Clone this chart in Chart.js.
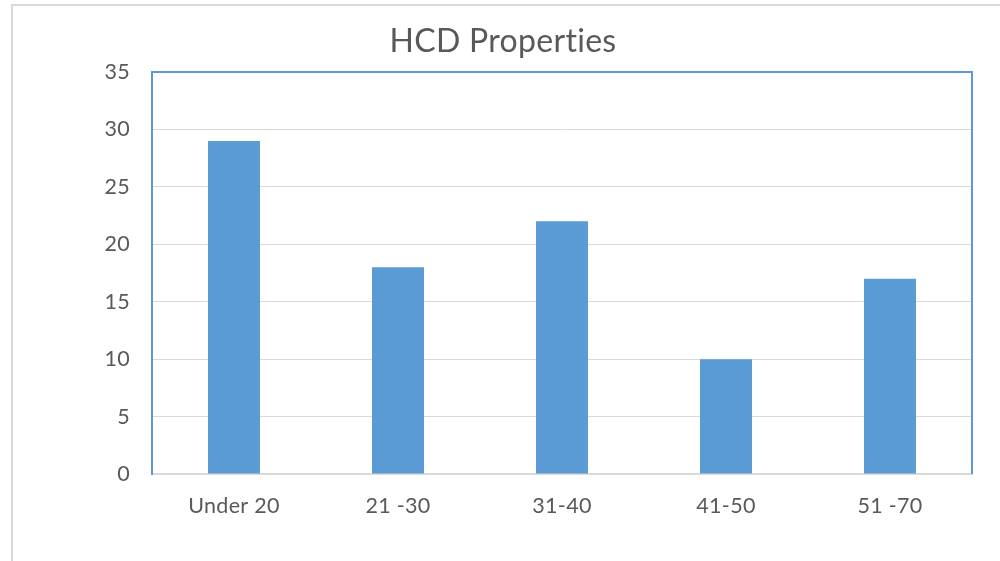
<!DOCTYPE html>
<html>
<head>
<meta charset="utf-8">
<script src="https://cdn.jsdelivr.net/npm/chart.js@4.4.1/dist/chart.umd.min.js"></script>
<style>
  html, body { margin: 0; padding: 0; background: #ffffff; }
  #wrap { position: relative; width: 1000px; height: 561px; overflow: hidden; }
  #frame { position: absolute; left: 11px; top: 4px; width: 1000px; height: 600px;
           border-left: 2px solid #d9d9d9; border-top: 2px solid #d9d9d9; box-sizing: border-box; }
  canvas { position: absolute; left: 0; top: 0; }
</style>
</head>
<body>
<div id="wrap">
  <div id="frame"></div>
  <canvas id="c" width="1000" height="561"></canvas>
</div>
<script>
const categories = ["Under 20", "21 -30", "31-40", "41-50", "51 -70"];
const values = [29, 18, 22, 10, 17];
const chartTitle = "HCD Properties";
const yMin = 0, yMax = 35, yStep = 5;

const BLUE = "#5b9bd5";
const GRID = "#d9d9d9";
const TEXT = "#595959";
const FONT = "Lato, 'Open Sans', sans-serif";

const noLigatures = {
  id: "noLigatures",
  beforeDraw(chart) {
    if ("letterSpacing" in chart.ctx) chart.ctx.letterSpacing = "0.3px";
  }
};

const plotBorder = {
  id: "plotBorder",
  afterDatasetsDraw(chart) {
    const a = chart.chartArea, ctx = chart.ctx;
    ctx.save();
    ctx.strokeStyle = BLUE;
    ctx.lineWidth = 2;
    ctx.beginPath();
    ctx.moveTo(a.left, a.top);
    ctx.lineTo(a.right, a.top);
    ctx.lineTo(a.right, a.bottom);
    ctx.stroke();
    ctx.restore();
  }
};

new Chart(document.getElementById("c"), {
  type: "bar",
  data: {
    labels: categories,
    datasets: [{
      data: values,
      backgroundColor: BLUE,
      borderWidth: 0,
      categoryPercentage: 1,
      barPercentage: 0.317
    }]
  },
  options: {
    responsive: false,
    animation: false,
    devicePixelRatio: 1,
    layout: { padding: { left: 34, right: 28, top: 0, bottom: 0 } },
    plugins: {
      legend: { display: false },
      tooltip: { enabled: false },
      title: {
        display: true,
        text: chartTitle,
        color: TEXT,
        font: { family: FONT, size: 32, weight: "normal", lineHeight: 1.2 },
        padding: { top: 22, bottom: 11.6 }
      }
    },
    scales: {
      x: {
        grid: { display: false, drawTicks: false },
        border: { display: true, color: GRID, width: 2 },
        ticks: { color: TEXT, font: { family: FONT, size: 21.5 }, padding: 19, maxRotation: 0 },
        afterFit(scale) { scale.height = 87; }
      },
      y: {
        min: yMin, max: yMax,
        grid: { color: GRID, lineWidth: 1, drawTicks: false },
        border: { display: true, color: BLUE, width: 2 },
        ticks: { stepSize: yStep, color: TEXT, font: { family: FONT, size: 21.5 }, padding: 22 },
        afterFit(scale) { scale.width = 118; }
      }
    }
  },
  plugins: [noLigatures, plotBorder]
});
</script>
</body>
</html>
